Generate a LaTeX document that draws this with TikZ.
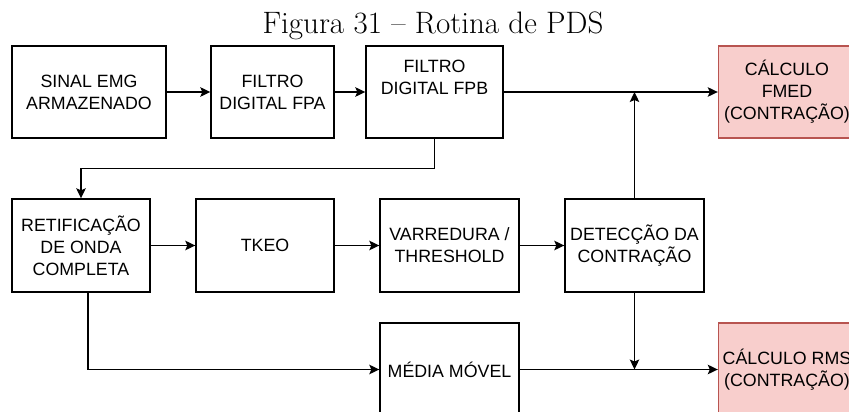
\documentclass[tikz,border=0pt]{standalone}
\usepackage{fontspec}
\newfontfamily\boxfont{Liberation Sans}
\usetikzlibrary{arrows.meta,positioning}
\definecolor{pinkfill}{HTML}{F8CECC}
\definecolor{pinkline}{HTML}{B85450}
\tikzset{
  blk/.style={draw=black, line width=1.4pt, align=center, inner sep=0pt,
    font=\boxfont\fontsize{17.8}{22}\selectfont, text=black},
  result/.style={blk, fill=pinkfill, draw=pinkline},
  flow/.style={line width=1.4pt, -{Stealth[length=10pt,width=9.5pt,inset=2pt]}},
  wire/.style={line width=1.4pt}
}
\begin{document}
\begin{tikzpicture}[x=1pt,y=-1pt]
  \useasboundingbox (0,0) rectangle (849,412);
  \clip (0,0) rectangle (849,412);

  \node[anchor=base, font=\fontsize{31}{36}\selectfont] (title) at (433,34) {Figura 31 -- Rotina de PDS};

  % first row
  \node[blk, minimum width=154pt, minimum height=92pt] (b1) at (89,92) {SINAL EMG\\ARMAZENADO};
  \node[blk, minimum width=123pt, minimum height=92pt] (b2) at (272.5,92) {FILTRO\\DIGITAL FPA};
  \node[blk, minimum width=137pt, minimum height=92pt] (b3) at (434.5,92) {FILTRO\\DIGITAL FPB\\\strut};
  \node[result, minimum width=137pt, minimum height=92pt] (b4) at (787,92) {CÁLCULO\\FMED\\(CONTRAÇÃO)};

  % second row
  \node[blk, minimum width=138pt, minimum height=93pt] (b5) at (81,245.5) {RETIFICAÇÃO\\DE ONDA\\COMPLETA};
  \node[blk, minimum width=138pt, minimum height=93pt] (b6) at (265,245.5) {TKEO};
  \node[blk, minimum width=139pt, minimum height=93pt] (b7) at (449.5,245.5) {VARREDURA /\\THRESHOLD};
  \node[blk, minimum width=139pt, minimum height=93pt] (b8) at (634.5,245.5) {DETECÇÃO DA\\CONTRAÇÃO};

  % third row
  \node[blk, minimum width=139pt, minimum height=93pt] (b9) at (449.5,369.5) {MÉDIA MÓVEL};
  \node[result, minimum width=137pt, minimum height=93pt] (b10) at (787,369.5) {CÁLCULO RMS\\(CONTRAÇÃO)};

  % junctions on the horizontal lines
  \coordinate (j1) at (634.5,92);
  \coordinate (j2) at (634.5,369.5);

  % connectors
  \draw[flow] (b1) -- (b2);
  \draw[flow] (b2) -- (b3);
  \draw[flow] (b3) -- (b4);
  \draw[flow] (b3.south) -- ([yshift=-30pt]b3.south) -| (b5.north);
  \draw[flow] (b5) -- (b6);
  \draw[flow] (b6) -- (b7);
  \draw[flow] (b7) -- (b8);
  \draw[flow] ([xshift=7pt]b5.south) |- (b9.west);
  \draw[flow] (b9) -- (b10);
  \draw[flow] (b8.north) -- (j1);
  \draw[flow] (b8.south) -- (j2);
\end{tikzpicture}
\end{document}
